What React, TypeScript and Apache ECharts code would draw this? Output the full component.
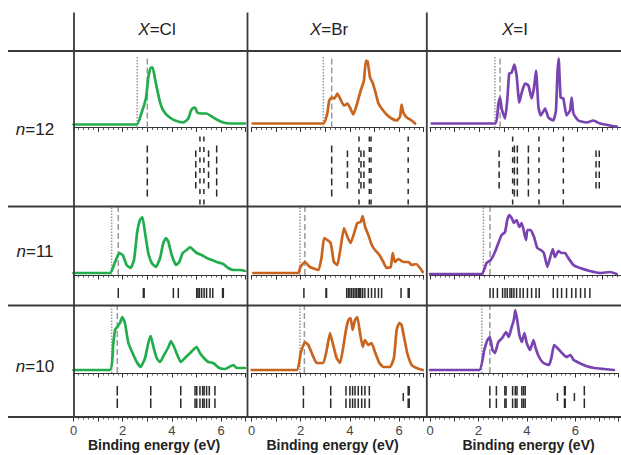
import React, { useEffect, useRef } from 'react';
import * as echarts from 'echarts';

// ---------- categories / labels ----------
const halides = ['Cl', 'Br', 'I'];
const clusterSizes = ['12', '11', '10'];
const bottomTickLabels = [0, 2, 4, 6];
const axisTitle = 'Binding energy (eV)';

// ---------- photoelectron spectra: [binding energy (eV), intensity (arb.)] ----------
const cl12 = [[0, 3], [2.57, 3], [2.77, 15], [2.95, 30], [3.04, 50], [3.14, 60], [3.22, 60], [3.31, 49], [3.41, 37], [3.52, 25], [3.65, 17], [3.86, 11], [4.13, 7], [4.47, 5], [4.67, 9], [4.76, 16], [4.84, 19], [4.94, 20], [5.03, 15], [5.21, 14], [5.41, 14], [5.62, 11], [5.82, 8], [6.09, 5], [6.36, 4], [6.97, 4]];
const br12 = [[0.05, 4], [2.92, 4], [3.08, 14], [3.16, 27], [3.26, 30], [3.37, 29], [3.49, 34], [3.6, 29], [3.76, 22], [3.9, 24], [4.0, 20], [4.14, 13], [4.27, 22], [4.44, 37], [4.57, 47], [4.65, 67], [4.72, 66], [4.82, 50], [4.92, 45], [5.02, 37], [5.16, 24], [5.29, 19], [5.49, 13], [5.7, 9], [5.9, 7], [6.04, 11], [6.1, 23], [6.17, 15], [6.31, 10], [6.51, 7], [6.65, 4]];
const i12 = [[0.07, 4], [2.64, 4], [2.78, 24], [2.85, 30], [2.91, 19], [3.05, 9], [3.14, 27], [3.22, 54], [3.32, 55], [3.43, 63], [3.52, 52], [3.63, 25], [3.73, 35], [3.86, 44], [4.0, 42], [4.13, 29], [4.23, 40], [4.31, 57], [4.41, 20], [4.5, 12], [4.68, 19], [4.81, 10], [5.01, 7], [5.12, 17], [5.18, 54], [5.23, 69], [5.31, 30], [5.42, 29], [5.55, 12], [5.69, 17], [5.76, 30], [5.83, 14], [6.03, 7], [6.37, 5], [6.64, 7], [6.91, 4], [7.32, 2], [7.59, 1]];

const cl11 = [[0, 2], [1.48, 2], [1.69, 13], [1.86, 22], [2.0, 20], [2.16, 10], [2.32, 7], [2.46, 15], [2.59, 43], [2.7, 55], [2.8, 58], [2.91, 42], [3.04, 22], [3.18, 12], [3.35, 8], [3.52, 17], [3.65, 32], [3.76, 37], [3.86, 33], [3.99, 20], [4.17, 10], [4.3, 13], [4.44, 22], [4.6, 25], [4.74, 28], [4.87, 25], [5.01, 22], [5.21, 20], [5.41, 17], [5.62, 15], [5.82, 13], [6.09, 11], [6.29, 7], [6.5, 5], [6.77, 5], [6.97, 4]];
const br11 = [[0.07, 2], [1.9, 2], [1.99, 8], [2.17, 13], [2.38, 8], [2.72, 5], [2.85, 18], [2.95, 37], [3.08, 35], [3.22, 32], [3.35, 13], [3.49, 10], [3.62, 27], [3.76, 47], [3.9, 38], [4.03, 32], [4.21, 45], [4.3, 52], [4.44, 53], [4.52, 59], [4.62, 48], [4.75, 40], [4.89, 30], [5.02, 25], [5.2, 20], [5.36, 13], [5.49, 7], [5.66, 8], [5.74, 22], [5.83, 13], [5.97, 16], [6.17, 13], [6.38, 13], [6.51, 10], [6.69, 11], [6.85, 7], [6.96, 3]];
const i11 = [[0, 1], [2.1, 1], [2.3, 12], [2.47, 15], [2.64, 23], [2.91, 40], [3.05, 43], [3.14, 55], [3.22, 60], [3.32, 57], [3.41, 52], [3.52, 55], [3.63, 48], [3.73, 52], [3.9, 35], [3.96, 45], [4.09, 45], [4.23, 38], [4.36, 27], [4.5, 25], [4.63, 22], [4.77, 8], [4.88, 17], [4.99, 26], [5.08, 18], [5.22, 24], [5.35, 22], [5.49, 22], [5.62, 17], [5.83, 10], [6.1, 7], [6.5, 4], [6.91, 2], [7.32, 3], [7.59, 1]];

const cl10 = [[0, 3], [1.48, 3], [1.62, 30], [1.69, 43], [1.78, 46], [1.89, 50], [1.98, 56], [2.09, 50], [2.23, 30], [2.4, 20], [2.57, 11], [2.73, 6], [2.91, 15], [3.04, 30], [3.14, 37], [3.25, 26], [3.38, 15], [3.52, 11], [3.68, 18], [3.86, 26], [3.96, 32], [4.09, 26], [4.22, 18], [4.36, 11], [4.53, 15], [4.74, 20], [4.9, 24], [5.01, 26], [5.14, 20], [5.3, 15], [5.48, 11], [5.68, 10], [5.93, 5], [6.16, 4], [6.5, 8], [6.63, 5], [6.97, 5]];
const br10 = [[0.01, 3], [1.84, 3], [2.0, 20], [2.17, 31], [2.31, 28], [2.45, 20], [2.65, 10], [2.92, 10], [3.08, 26], [3.19, 40], [3.3, 30], [3.46, 15], [3.6, 10], [3.73, 26], [3.84, 43], [3.94, 53], [4.03, 55], [4.11, 43], [4.21, 53], [4.3, 56], [4.41, 40], [4.52, 26], [4.61, 33], [4.75, 28], [4.88, 30], [5.02, 21], [5.2, 10], [5.36, 6], [5.63, 6], [5.79, 15], [5.9, 43], [6.01, 50], [6.1, 48], [6.2, 36], [6.33, 20], [6.51, 8], [6.71, 5], [6.96, 3]];
const i10 = [[0, 3], [2.03, 3], [2.24, 23], [2.37, 33], [2.47, 36], [2.58, 23], [2.68, 20], [2.82, 31], [2.98, 35], [3.14, 41], [3.25, 36], [3.36, 45], [3.46, 53], [3.52, 63], [3.6, 53], [3.69, 38], [3.79, 31], [3.9, 40], [3.99, 30], [4.13, 23], [4.27, 33], [4.36, 25], [4.5, 16], [4.68, 10], [4.91, 8], [5.01, 15], [5.12, 28], [5.26, 25], [5.45, 20], [5.62, 16], [5.8, 18], [5.93, 13], [6.17, 10], [6.44, 7], [6.78, 5], [7.18, 4], [7.59, 3]];

// ---------- calculated stick spectra: [binding energy (eV), stick class] ----------
const cl12Sticks = [[3.0, 1], [4.97, 2], [5.14, 0], [5.3, 0], [5.49, 2], [5.82, 1]];
const br12Sticks = [[3.26, 1], [3.9, 2], [4.37, 0], [4.45, 2], [4.57, 2], [4.79, 0], [4.86, 0], [6.37, 0]];
const i12Sticks = [[2.81, 2], [3.36, 0], [3.43, 1], [3.55, 1], [4.0, 1], [4.43, 0], [5.42, 0], [6.75, 2], [6.88, 2]];

const cl11Sticks = [[1.82, 0], [2.84, 0], [2.87, 0], [4.06, 0], [4.26, 0], [5.01, 0], [5.06, 0], [5.12, 0], [5.21, 0], [5.31, 0], [5.41, 0], [5.55, 0], [5.66, 0], [6.06, 0], [6.09, 0]];
const br11Sticks = [[2.13, 0], [3.03, 0], [3.05, 0], [3.87, 0], [3.94, 0], [4.0, 0], [4.07, 0], [4.14, 0], [4.21, 0], [4.27, 0], [4.34, 0], [4.38, 0], [4.44, 0], [4.52, 0], [4.61, 0], [4.75, 0], [4.88, 0], [5.02, 0], [5.16, 0], [5.29, 0], [6.08, 0], [6.37, 0], [6.41, 0]];
const i11Sticks = [[2.44, 0], [2.57, 0], [2.74, 0], [2.95, 0], [3.05, 0], [3.14, 0], [3.25, 0], [3.32, 0], [3.41, 0], [3.52, 0], [3.66, 0], [3.79, 0], [3.96, 0], [4.13, 0], [4.31, 0], [4.44, 0], [5.01, 0], [5.18, 0], [5.35, 0], [5.55, 0], [5.76, 0], [5.93, 0], [6.12, 0], [6.3, 0], [6.5, 0]];

const cl10Sticks = [[1.78, 0], [3.14, 0], [4.36, 0], [4.94, 0], [5.01, 0], [5.14, 0], [5.25, 0], [5.31, 0], [5.41, 0], [5.52, 0], [5.75, 0]];
const br10Sticks = [[2.11, 0], [3.22, 0], [3.84, 0], [4.0, 0], [4.11, 0], [4.21, 0], [4.34, 0], [4.48, 0], [4.61, 0], [4.79, 0], [6.17, 1], [6.37, 0], [6.41, 0]];
const i10Sticks = [[2.47, 0], [2.74, 0], [3.09, 0], [3.14, 0], [3.41, 0], [3.52, 0], [3.59, 0], [3.79, 0], [3.86, 0], [3.93, 0], [5.26, 1], [5.55, 0], [5.58, 0], [5.96, 1], [6.37, 0]];

// ---------- threshold markers: [dotted (ADE), dashed (VDE)] in eV ----------
const thresholds12 = [[2.59, 3.0], [2.92, 3.26], [2.64, 2.85]];
const thresholds11 = [[1.55, 1.82], [1.97, 2.17], [2.17, 2.44]];
const thresholds10 = [[1.55, 1.78], [1.97, 2.15], [2.14, 2.47]];

const spectra = [[cl12, br12, i12], [cl11, br11, i11], [cl10, br10, i10]];
const sticks = [[cl12Sticks, br12Sticks, i12Sticks], [cl11Sticks, br11Sticks, i11Sticks], [cl10Sticks, br10Sticks, i10Sticks]];
const thresholds = [thresholds12, thresholds11, thresholds10];

// ---------- layout & style ----------
const FONT = '"Liberation Sans", Arial, Helvetica, sans-serif';
const COLORS = ['#22ad4c', '#c8641e', '#7a43b2'];
const INK = '#333';
const PX_PER_EV = 24.6;
const COL_LEFT = [73.5, 251.5, 430];
const COL_XMAX = [7, 7, 7.76];
const ROW_TOP = [51, 206.5, 305.5];
const ROW_H = [155.5, 99, 111.5];
const ROW_YMAX = [76.5, 68.5, 67.5];
const REF_TOP = [71, 68, 67];
const STICK_KINDS: any[] = [
  [
    { from: -9, to: -78, dash: [5, 5.5] },
    { from: -18, to: -69, dash: [7, 4] },
    { from: -23, to: -61, dash: [6.5, 4] },
  ],
  [{ from: -13, to: -23, dash: null }],
  [
    { from: -13, to: -35, dash: [9.5, 3] },
    { from: -20, to: -28, dash: null },
  ],
];
const HEADER_X = [157, 329, 515];
const HEADER_Y = 29;
const ROW_LABEL_X = 35;
const ROW_LABEL_Y = [129, 251, 366];
const NAME_PAD = [[0, 11, 0, 0], [0, 10, 0, 0], [0, 0, 0, 9]];
const TABLE_V = [74, 247.5, 426.8];
const TABLE_H = [51, 206.5, 305.5, 417];

function buildOption() {
  const grid: any[] = [];
  const xAxis: any[] = [];
  const yAxis: any[] = [];
  const series: any[] = [];
  const tickStyle = { color: INK, width: 1 };

  for (let r = 0; r < 3; r++) {
    for (let c = 0; c < 3; c++) {
      const g = r * 3 + c;
      grid.push({ left: COL_LEFT[c], top: ROW_TOP[r], width: COL_XMAX[c] * PX_PER_EV, height: ROW_H[r] });
      xAxis.push({
        type: 'value', gridIndex: g, min: 0, max: COL_XMAX[c], interval: 1,
        axisLine: { onZero: true, lineStyle: { color: INK, width: 1.2 } },
        axisTick: { show: true, length: 4.5, lineStyle: tickStyle },
        minorTick: { show: true, splitNumber: 5, length: 2.5, lineStyle: { color: INK, width: 0.8 } },
        axisLabel: { show: false }, splitLine: { show: false }, minorSplitLine: { show: false },
      });
      yAxis.push({ type: 'value', gridIndex: g, min: ROW_YMAX[r] - ROW_H[r], max: ROW_YMAX[r], show: false, splitLine: { show: false } });

      const refData = thresholds[r][c].map((x, k) => [x, k]);
      series.push({
        type: 'custom', xAxisIndex: g, yAxisIndex: g, z: 1, silent: true,
        data: refData, encode: { x: 0, y: 1 },
        renderItem: (params: any, api: any) => {
          const x = api.value(0);
          const k = api.value(1);
          const p0 = api.coord([x, 0]);
          const p1 = api.coord([x, REF_TOP[r]]);
          return {
            type: 'line',
            shape: { x1: p0[0], y1: p0[1], x2: p1[0], y2: p1[1] },
            style: { stroke: '#9a9a9a', lineWidth: 1.5, lineDash: k === 0 ? [1.5, 1.5] : [6, 3] },
          };
        },
      });
      series.push({
        type: 'line', name: `${halides[c]} n=${clusterSizes[r]}`, xAxisIndex: g, yAxisIndex: g, z: 3,
        data: spectra[r][c], showSymbol: false, symbol: 'none', smooth: 0.15,
        lineStyle: { color: COLORS[c], width: 2.7, join: 'round', cap: 'round' },
        itemStyle: { color: COLORS[c] },
      });
      series.push({
        type: 'custom', xAxisIndex: g, yAxisIndex: g, z: 2, silent: true,
        data: sticks[r][c], encode: { x: 0, y: 1 },
        renderItem: (params: any, api: any) => {
          const x = api.value(0);
          const spec = STICK_KINDS[r][api.value(1)] || STICK_KINDS[r][0];
          const p0 = api.coord([x, spec.from]);
          const p1 = api.coord([x, spec.to]);
          const style: any = { stroke: '#2a2a2a', lineWidth: 1.5 };
          if (spec.dash) style.lineDash = spec.dash;
          return { type: 'line', shape: { x1: p0[0], y1: p0[1], x2: p1[0], y2: p1[1] }, style };
        },
      });
    }
  }
  // bottom energy axes
  for (let c = 0; c < 3; c++) {
    const g = 6 + c;
    xAxis.push({
      type: 'value', gridIndex: g, position: 'bottom', min: 0, max: COL_XMAX[c], interval: 1,
      axisLine: { onZero: false, lineStyle: { color: INK, width: 1.8 } },
      axisTick: { show: true, length: 4.5, lineStyle: tickStyle },
      minorTick: { show: true, splitNumber: 5, length: 2.5, lineStyle: { color: INK, width: 0.8 } },
      axisLabel: {
        show: true, margin: 7, fontSize: 13, color: '#444', fontFamily: FONT,
        formatter: (v: number) => (bottomTickLabels.indexOf(v) >= 0 ? String(v) : ''),
      },
      splitLine: { show: false },
      name: axisTitle, nameLocation: 'middle', nameGap: 21,
      nameTextStyle: { fontWeight: 'bold', fontSize: 14, color: '#222', fontFamily: FONT, padding: NAME_PAD[c] },
    });
  }

  const graphic: any[] = [];
  TABLE_H.forEach((y) => {
    graphic.push({ type: 'line', z: 50, silent: true, shape: { x1: 8, y1: y, x2: 621, y2: y }, style: { stroke: '#3a3a3a', lineWidth: 1.8 } });
  });
  TABLE_V.forEach((x) => {
    graphic.push({ type: 'line', z: 50, silent: true, shape: { x1: x, y1: 12.5, x2: x, y2: 417 }, style: { stroke: '#3a3a3a', lineWidth: 1.8 } });
  });
  const rich = { i: { fontStyle: 'italic', fontSize: 17, fontFamily: FONT, fill: '#222', color: '#222' } };
  halides.forEach((h, c) => {
    graphic.push({
      type: 'text', z: 50, silent: true, x: HEADER_X[c], y: HEADER_Y,
      style: { text: `{i|X}=${h}`, fontSize: 17, fontFamily: FONT, fill: '#222', align: 'center', verticalAlign: 'middle', textAlign: 'center', textVerticalAlign: 'middle', rich },
    });
  });
  clusterSizes.forEach((n, r) => {
    graphic.push({
      type: 'text', z: 50, silent: true, x: ROW_LABEL_X, y: ROW_LABEL_Y[r],
      style: { text: `{i|n}=${n}`, fontSize: 17, fontFamily: FONT, fill: '#222', align: 'center', verticalAlign: 'middle', textAlign: 'center', textVerticalAlign: 'middle', rich },
    });
  });

  return {
    animation: false,
    backgroundColor: '#ffffff',
    textStyle: { fontFamily: FONT },
    grid, xAxis, yAxis, series, graphic,
  };
}

export default function App() {
  const ref = useRef<HTMLDivElement>(null);
  useEffect(() => {
    if (!ref.current) return;
    const chart = echarts.init(ref.current, null, { renderer: 'svg' });
    chart.setOption(buildOption() as any);
    return () => chart.dispose();
  }, []);
  return <div ref={ref} style={{ position: 'fixed', left: 0, top: 0, width: 621, height: 455, background: '#fff' }} />;
}
